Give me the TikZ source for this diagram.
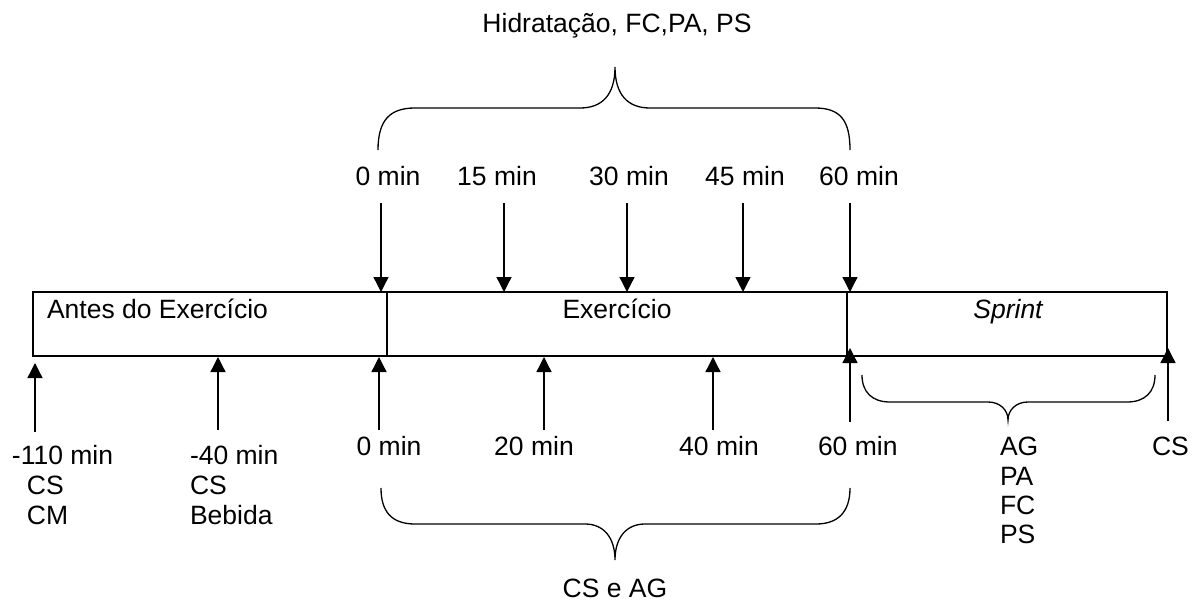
\documentclass[tikz,border=0pt]{standalone}
\usepackage{fontspec}
\setmainfont{Liberation Sans}
\usetikzlibrary{arrows.meta}
\tikzset{
  lbl/.style={font=\fontsize{26.5}{30}\selectfont, inner sep=0pt, outer sep=0pt},
  phase/.style={draw, line width=1.5pt, minimum height=64pt, inner sep=0pt, outer sep=0pt, anchor=north west},
  arr/.style={line width=1.3pt, -{Triangle[width=15pt,length=15pt]}},
  brace/.style={line width=1.3pt}
}
\begin{document}
\begin{tikzpicture}[x=1pt,y=-1pt]
\useasboundingbox (0,0) rectangle (1197,602);
% phase boxes
\node[phase, minimum width=354pt] (pre) at (33,292) {};
\node[phase, minimum width=460pt] (ex) at (387,292) {};
\node[phase, minimum width=320pt] (sp) at (847,292) {};
\node[lbl, anchor=base west] (preL) at (47,318) {Antes do Exercício};
\node[lbl, anchor=base] (exL) at (617,318) {Exercício};
\node[lbl, anchor=base] (spL) at (1008,318) {\itshape Sprint};
% title and top labels
\node[lbl, anchor=base] (title) at (617,33) {Hidratação, FC,PA, PS};
\node[lbl, anchor=base] (t0) at (388,185) {0 min};
\node[lbl, anchor=base] (t15) at (497,185) {15 min};
\node[lbl, anchor=base] (t30) at (629,185) {30 min};
\node[lbl, anchor=base] (t45) at (745,185) {45 min};
\node[lbl, anchor=base] (t60) at (859,185) {60 min};
% top arrows
\coordinate (ta0) at (381,203);
\coordinate (ta15) at (504,203);
\coordinate (ta30) at (627,203);
\coordinate (ta45) at (743,203);
\coordinate (ta60) at (850,203);
\foreach \c in {ta0,ta15,ta30,ta45,ta60}
  \draw[arr] (\c) -- (\c |- ex.north);
% top brace
\draw[brace] (378,150) .. controls (378,120) and (390,108) .. (415,108) -- (580,108)
  .. controls (602,108) and (615,95) .. (615,67)
  .. controls (615,95) and (628,108) .. (650,108) -- (815,108)
  .. controls (840,108) and (850,120) .. (850,150);
% bottom arrows
\coordinate (b110) at (35,432); \coordinate (b110t) at (35,363);
\coordinate (b40) at (218,430); \coordinate (b40t) at (218,357);
\coordinate (b0) at (379,430); \coordinate (b0t) at (379,357);
\coordinate (b20) at (544,430); \coordinate (b20t) at (544,357);
\coordinate (b40e) at (713,430); \coordinate (b40et) at (713,357);
\coordinate (b60) at (850,422); \coordinate (b60t) at (850,348);
\coordinate (bcs) at (1168,421); \coordinate (bcst) at (1168,348);
\draw[arr] (b110) -- (b110t);
\draw[arr] (b40) -- (b40t);
\draw[arr] (b0) -- (b0t);
\draw[arr] (b20) -- (b20t);
\draw[arr] (b40e) -- (b40et);
\draw[arr] (b60) -- (b60t);
\draw[arr] (bcs) -- (bcst);
% bottom labels
\node[lbl, anchor=base west] (l110) at (12,464) {-110 min};
\node[lbl, anchor=base west] (l110a) at (27,494) {CS};
\node[lbl, anchor=base west] (l110b) at (27,524) {CM};
\node[lbl, anchor=base west] (l40) at (190,464) {-40 min};
\node[lbl, anchor=base west] (l40a) at (190,494) {CS};
\node[lbl, anchor=base west] (l40b) at (190,524) {Bebida};
\node[lbl, anchor=base] (l0) at (389,455) {0 min};
\node[lbl, anchor=base] (l20) at (534,455) {20 min};
\node[lbl, anchor=base] (l40e) at (719,455) {40 min};
\node[lbl, anchor=base west] (l60) at (818,455) {60 min};
\node[lbl, anchor=base west] (sAG) at (1000,455) {AG};
\node[lbl, anchor=base west] (sPA) at (1000,485) {PA};
\node[lbl, anchor=base west] (sFC) at (1000,514) {FC};
\node[lbl, anchor=base west] (sPS) at (1000,543) {PS};
\node[lbl, anchor=base west] (lcs) at (1152,455) {CS};
% sprint brace
\draw[brace] (862,375) .. controls (862,392) and (872,402) .. (890,402) -- (988,402)
  .. controls (1000,402) and (1008,410) .. (1008,420)
  .. controls (1008,410) and (1016,402) .. (1028,402) -- (1127,402)
  .. controls (1145,402) and (1155,392) .. (1155,375);
% bottom brace
\draw[brace] (381,488) .. controls (381,512) and (392,524) .. (415,524) -- (585,524)
  .. controls (604,524) and (615,538) .. (615,560)
  .. controls (615,538) and (626,524) .. (645,524) -- (816,524)
  .. controls (838,524) and (850,512) .. (850,488);
\node[lbl, anchor=base] (cag) at (615,597) {CS e AG};
\end{tikzpicture}
\end{document}
